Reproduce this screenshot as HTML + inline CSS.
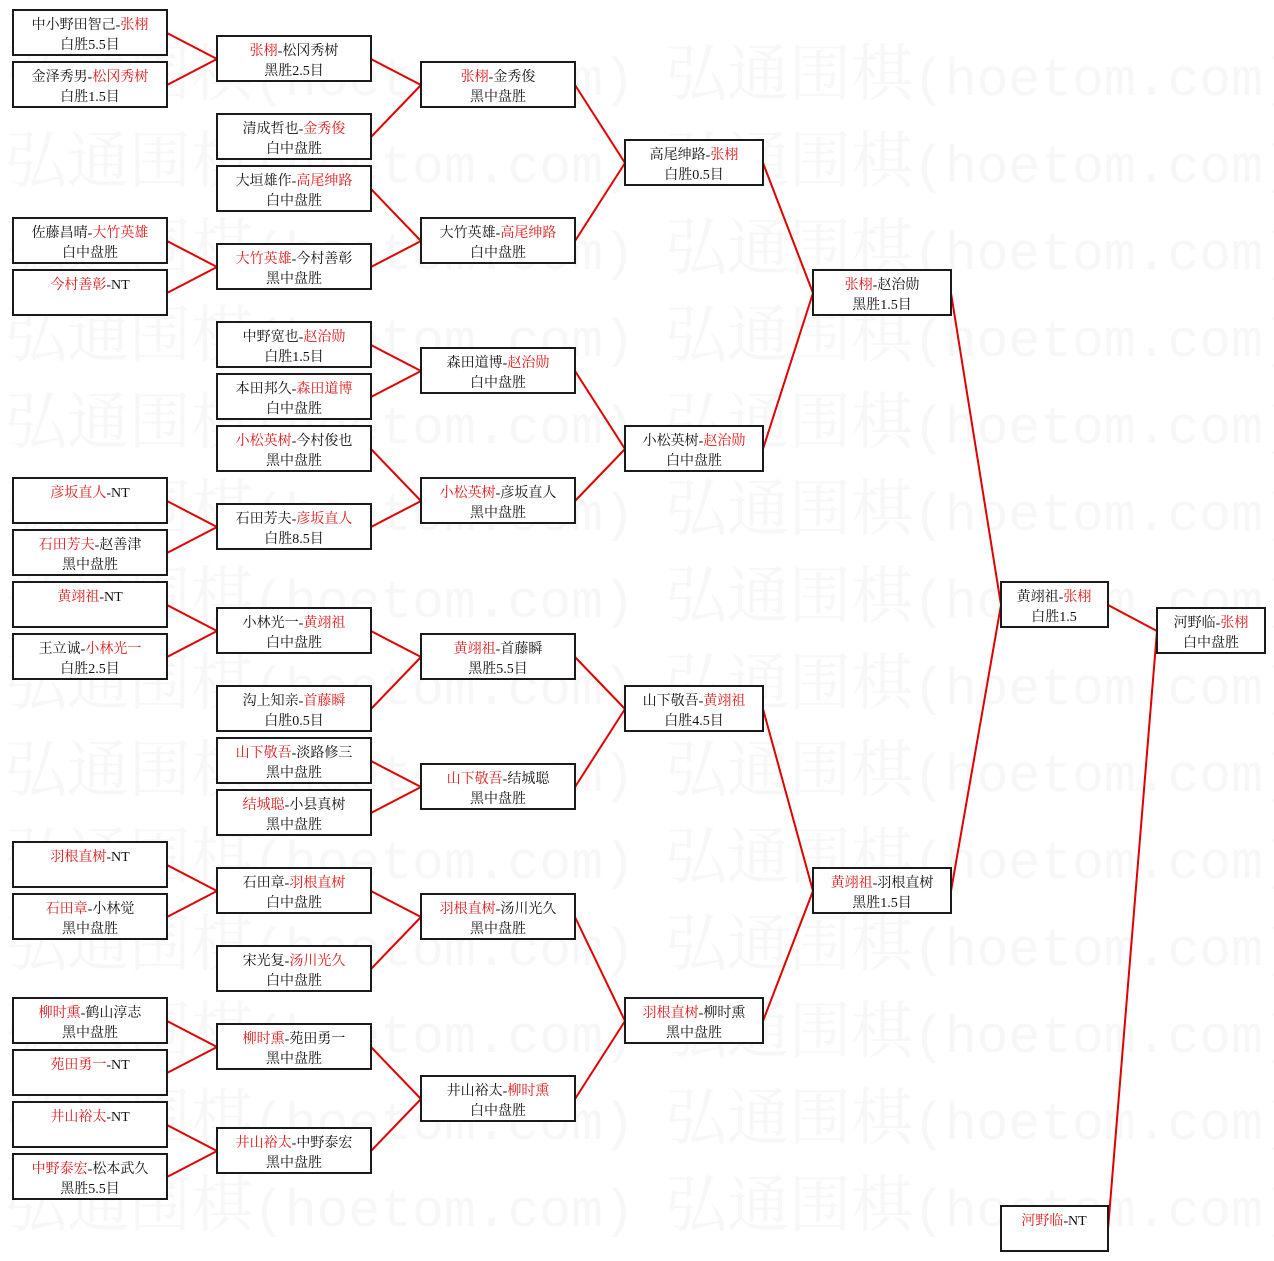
<!DOCTYPE html>
<html><head><meta charset="utf-8"><style>
html,body{margin:0;padding:0;background:#fff;}
svg{display:block;}
.b{fill:#fff;stroke:#1a1a1a;stroke-width:2;}
.t{font-family:"Liberation Serif","Noto Serif CJK SC","Noto Sans CJK SC",serif;font-size:14px;fill:#111;text-anchor:middle;}
.r{fill:#e01818;}
.w{font-family:"Liberation Mono","Noto Serif CJK SC",monospace;font-size:62px;fill:#f7f7f7;}
.w .m{font-size:53px;}
line{stroke:#e00000;stroke-width:2;}
</style></head><body>
<svg width="1274" height="1261" xmlns="http://www.w3.org/2000/svg">
<g class="w">
<text x="5" y="95">弘通围棋<tspan class="m">(hoetom.com)</tspan></text><text x="665" y="95">弘通围棋<tspan class="m">(hoetom.com)</tspan></text>
<text x="5" y="182">弘通围棋<tspan class="m">(hoetom.com)</tspan></text><text x="665" y="182">弘通围棋<tspan class="m">(hoetom.com)</tspan></text>
<text x="5" y="269">弘通围棋<tspan class="m">(hoetom.com)</tspan></text><text x="665" y="269">弘通围棋<tspan class="m">(hoetom.com)</tspan></text>
<text x="5" y="356">弘通围棋<tspan class="m">(hoetom.com)</tspan></text><text x="665" y="356">弘通围棋<tspan class="m">(hoetom.com)</tspan></text>
<text x="5" y="443">弘通围棋<tspan class="m">(hoetom.com)</tspan></text><text x="665" y="443">弘通围棋<tspan class="m">(hoetom.com)</tspan></text>
<text x="5" y="530">弘通围棋<tspan class="m">(hoetom.com)</tspan></text><text x="665" y="530">弘通围棋<tspan class="m">(hoetom.com)</tspan></text>
<text x="5" y="617">弘通围棋<tspan class="m">(hoetom.com)</tspan></text><text x="665" y="617">弘通围棋<tspan class="m">(hoetom.com)</tspan></text>
<text x="5" y="704">弘通围棋<tspan class="m">(hoetom.com)</tspan></text><text x="665" y="704">弘通围棋<tspan class="m">(hoetom.com)</tspan></text>
<text x="5" y="791">弘通围棋<tspan class="m">(hoetom.com)</tspan></text><text x="665" y="791">弘通围棋<tspan class="m">(hoetom.com)</tspan></text>
<text x="5" y="878">弘通围棋<tspan class="m">(hoetom.com)</tspan></text><text x="665" y="878">弘通围棋<tspan class="m">(hoetom.com)</tspan></text>
<text x="5" y="965">弘通围棋<tspan class="m">(hoetom.com)</tspan></text><text x="665" y="965">弘通围棋<tspan class="m">(hoetom.com)</tspan></text>
<text x="5" y="1052">弘通围棋<tspan class="m">(hoetom.com)</tspan></text><text x="665" y="1052">弘通围棋<tspan class="m">(hoetom.com)</tspan></text>
<text x="5" y="1139">弘通围棋<tspan class="m">(hoetom.com)</tspan></text><text x="665" y="1139">弘通围棋<tspan class="m">(hoetom.com)</tspan></text>
<text x="5" y="1226">弘通围棋<tspan class="m">(hoetom.com)</tspan></text><text x="665" y="1226">弘通围棋<tspan class="m">(hoetom.com)</tspan></text>
</g>
<line x1="167" y1="33" x2="217" y2="59"/><line x1="167" y1="85" x2="217" y2="59"/>
<line x1="167" y1="241" x2="217" y2="267"/><line x1="167" y1="293" x2="217" y2="267"/>
<line x1="167" y1="501" x2="217" y2="527"/><line x1="167" y1="553" x2="217" y2="527"/>
<line x1="167" y1="605" x2="217" y2="631"/><line x1="167" y1="657" x2="217" y2="631"/>
<line x1="167" y1="865" x2="217" y2="891"/><line x1="167" y1="917" x2="217" y2="891"/>
<line x1="167" y1="1021" x2="217" y2="1047"/><line x1="167" y1="1073" x2="217" y2="1047"/>
<line x1="167" y1="1125" x2="217" y2="1151"/><line x1="167" y1="1177" x2="217" y2="1151"/>
<line x1="371" y1="59" x2="421" y2="85"/><line x1="371" y1="137" x2="421" y2="85"/>
<line x1="371" y1="189" x2="421" y2="241"/><line x1="371" y1="267" x2="421" y2="241"/>
<line x1="371" y1="345" x2="421" y2="371"/><line x1="371" y1="397" x2="421" y2="371"/>
<line x1="371" y1="449" x2="421" y2="501"/><line x1="371" y1="527" x2="421" y2="501"/>
<line x1="371" y1="631" x2="421" y2="657"/><line x1="371" y1="709" x2="421" y2="657"/>
<line x1="371" y1="761" x2="421" y2="787"/><line x1="371" y1="813" x2="421" y2="787"/>
<line x1="371" y1="891" x2="421" y2="917"/><line x1="371" y1="969" x2="421" y2="917"/>
<line x1="371" y1="1047" x2="421" y2="1099"/><line x1="371" y1="1151" x2="421" y2="1099"/>
<line x1="575" y1="85" x2="625" y2="163"/><line x1="575" y1="241" x2="625" y2="163"/>
<line x1="575" y1="371" x2="625" y2="449"/><line x1="575" y1="501" x2="625" y2="449"/>
<line x1="575" y1="657" x2="625" y2="709"/><line x1="575" y1="787" x2="625" y2="709"/>
<line x1="575" y1="917" x2="625" y2="1021"/><line x1="575" y1="1099" x2="625" y2="1021"/>
<line x1="763" y1="163" x2="813" y2="293"/><line x1="763" y1="449" x2="813" y2="293"/>
<line x1="763" y1="709" x2="813" y2="891"/><line x1="763" y1="1021" x2="813" y2="891"/>
<line x1="951" y1="293" x2="1001" y2="605"/><line x1="951" y1="891" x2="1001" y2="605"/>
<line x1="1108" y1="605" x2="1157" y2="631"/><line x1="1108" y1="1229" x2="1157" y2="631"/>
<g class="t">
<rect class="b" x="13" y="10" width="154" height="45"/><text x="90" y="29">中小野田智己-<tspan class="r">张栩</tspan></text><text x="90" y="49">白胜5.5目</text>
<rect class="b" x="13" y="62" width="154" height="45"/><text x="90" y="81">金泽秀男-<tspan class="r">松冈秀树</tspan></text><text x="90" y="101">白胜1.5目</text>
<rect class="b" x="13" y="218" width="154" height="45"/><text x="90" y="237">佐藤昌晴-<tspan class="r">大竹英雄</tspan></text><text x="90" y="257">白中盘胜</text>
<rect class="b" x="13" y="270" width="154" height="45"/><text x="90" y="289"><tspan class="r">今村善彰</tspan>-NT</text>
<rect class="b" x="13" y="478" width="154" height="45"/><text x="90" y="497"><tspan class="r">彦坂直人</tspan>-NT</text>
<rect class="b" x="13" y="530" width="154" height="45"/><text x="90" y="549"><tspan class="r">石田芳夫</tspan>-赵善津</text><text x="90" y="569">黑中盘胜</text>
<rect class="b" x="13" y="582" width="154" height="45"/><text x="90" y="601"><tspan class="r">黄翊祖</tspan>-NT</text>
<rect class="b" x="13" y="634" width="154" height="45"/><text x="90" y="653">王立诚-<tspan class="r">小林光一</tspan></text><text x="90" y="673">白胜2.5目</text>
<rect class="b" x="13" y="842" width="154" height="45"/><text x="90" y="861"><tspan class="r">羽根直树</tspan>-NT</text>
<rect class="b" x="13" y="894" width="154" height="45"/><text x="90" y="913"><tspan class="r">石田章</tspan>-小林觉</text><text x="90" y="933">黑中盘胜</text>
<rect class="b" x="13" y="998" width="154" height="45"/><text x="90" y="1017"><tspan class="r">柳时熏</tspan>-鹤山淳志</text><text x="90" y="1037">黑中盘胜</text>
<rect class="b" x="13" y="1050" width="154" height="45"/><text x="90" y="1069"><tspan class="r">苑田勇一</tspan>-NT</text>
<rect class="b" x="13" y="1102" width="154" height="45"/><text x="90" y="1121"><tspan class="r">井山裕太</tspan>-NT</text>
<rect class="b" x="13" y="1154" width="154" height="45"/><text x="90" y="1173"><tspan class="r">中野泰宏</tspan>-松本武久</text><text x="90" y="1193">黑胜5.5目</text>
<rect class="b" x="217" y="36" width="154" height="45"/><text x="294" y="55"><tspan class="r">张栩</tspan>-松冈秀树</text><text x="294" y="75">黑胜2.5目</text>
<rect class="b" x="217" y="114" width="154" height="45"/><text x="294" y="133">清成哲也-<tspan class="r">金秀俊</tspan></text><text x="294" y="153">白中盘胜</text>
<rect class="b" x="217" y="166" width="154" height="45"/><text x="294" y="185">大垣雄作-<tspan class="r">高尾绅路</tspan></text><text x="294" y="205">白中盘胜</text>
<rect class="b" x="217" y="244" width="154" height="45"/><text x="294" y="263"><tspan class="r">大竹英雄</tspan>-今村善彰</text><text x="294" y="283">黑中盘胜</text>
<rect class="b" x="217" y="322" width="154" height="45"/><text x="294" y="341">中野宽也-<tspan class="r">赵治勋</tspan></text><text x="294" y="361">白胜1.5目</text>
<rect class="b" x="217" y="374" width="154" height="45"/><text x="294" y="393">本田邦久-<tspan class="r">森田道博</tspan></text><text x="294" y="413">白中盘胜</text>
<rect class="b" x="217" y="426" width="154" height="45"/><text x="294" y="445"><tspan class="r">小松英树</tspan>-今村俊也</text><text x="294" y="465">黑中盘胜</text>
<rect class="b" x="217" y="504" width="154" height="45"/><text x="294" y="523">石田芳夫-<tspan class="r">彦坂直人</tspan></text><text x="294" y="543">白胜8.5目</text>
<rect class="b" x="217" y="608" width="154" height="45"/><text x="294" y="627">小林光一-<tspan class="r">黄翊祖</tspan></text><text x="294" y="647">白中盘胜</text>
<rect class="b" x="217" y="686" width="154" height="45"/><text x="294" y="705">沟上知亲-<tspan class="r">首藤瞬</tspan></text><text x="294" y="725">白胜0.5目</text>
<rect class="b" x="217" y="738" width="154" height="45"/><text x="294" y="757"><tspan class="r">山下敬吾</tspan>-淡路修三</text><text x="294" y="777">黑中盘胜</text>
<rect class="b" x="217" y="790" width="154" height="45"/><text x="294" y="809"><tspan class="r">结城聪</tspan>-小县真树</text><text x="294" y="829">黑中盘胜</text>
<rect class="b" x="217" y="868" width="154" height="45"/><text x="294" y="887">石田章-<tspan class="r">羽根直树</tspan></text><text x="294" y="907">白中盘胜</text>
<rect class="b" x="217" y="946" width="154" height="45"/><text x="294" y="965">宋光复-<tspan class="r">汤川光久</tspan></text><text x="294" y="985">白中盘胜</text>
<rect class="b" x="217" y="1024" width="154" height="45"/><text x="294" y="1043"><tspan class="r">柳时熏</tspan>-苑田勇一</text><text x="294" y="1063">黑中盘胜</text>
<rect class="b" x="217" y="1128" width="154" height="45"/><text x="294" y="1147"><tspan class="r">井山裕太</tspan>-中野泰宏</text><text x="294" y="1167">黑中盘胜</text>
<rect class="b" x="421" y="62" width="154" height="45"/><text x="498" y="81"><tspan class="r">张栩</tspan>-金秀俊</text><text x="498" y="101">黑中盘胜</text>
<rect class="b" x="421" y="218" width="154" height="45"/><text x="498" y="237">大竹英雄-<tspan class="r">高尾绅路</tspan></text><text x="498" y="257">白中盘胜</text>
<rect class="b" x="421" y="348" width="154" height="45"/><text x="498" y="367">森田道博-<tspan class="r">赵治勋</tspan></text><text x="498" y="387">白中盘胜</text>
<rect class="b" x="421" y="478" width="154" height="45"/><text x="498" y="497"><tspan class="r">小松英树</tspan>-彦坂直人</text><text x="498" y="517">黑中盘胜</text>
<rect class="b" x="421" y="634" width="154" height="45"/><text x="498" y="653"><tspan class="r">黄翊祖</tspan>-首藤瞬</text><text x="498" y="673">黑胜5.5目</text>
<rect class="b" x="421" y="764" width="154" height="45"/><text x="498" y="783"><tspan class="r">山下敬吾</tspan>-结城聪</text><text x="498" y="803">黑中盘胜</text>
<rect class="b" x="421" y="894" width="154" height="45"/><text x="498" y="913"><tspan class="r">羽根直树</tspan>-汤川光久</text><text x="498" y="933">黑中盘胜</text>
<rect class="b" x="421" y="1076" width="154" height="45"/><text x="498" y="1095">井山裕太-<tspan class="r">柳时熏</tspan></text><text x="498" y="1115">白中盘胜</text>
<rect class="b" x="625" y="140" width="138" height="45"/><text x="694" y="159">高尾绅路-<tspan class="r">张栩</tspan></text><text x="694" y="179">白胜0.5目</text>
<rect class="b" x="625" y="426" width="138" height="45"/><text x="694" y="445">小松英树-<tspan class="r">赵治勋</tspan></text><text x="694" y="465">白中盘胜</text>
<rect class="b" x="625" y="686" width="138" height="45"/><text x="694" y="705">山下敬吾-<tspan class="r">黄翊祖</tspan></text><text x="694" y="725">白胜4.5目</text>
<rect class="b" x="625" y="998" width="138" height="45"/><text x="694" y="1017"><tspan class="r">羽根直树</tspan>-柳时熏</text><text x="694" y="1037">黑中盘胜</text>
<rect class="b" x="813" y="270" width="138" height="45"/><text x="882" y="289"><tspan class="r">张栩</tspan>-赵治勋</text><text x="882" y="309">黑胜1.5目</text>
<rect class="b" x="813" y="868" width="138" height="45"/><text x="882" y="887"><tspan class="r">黄翊祖</tspan>-羽根直树</text><text x="882" y="907">黑胜1.5目</text>
<rect class="b" x="1001" y="582" width="107" height="45"/><text x="1054" y="601">黄翊祖-<tspan class="r">张栩</tspan></text><text x="1054" y="621">白胜1.5</text>
<rect class="b" x="1001" y="1206" width="107" height="45"/><text x="1054" y="1225"><tspan class="r">河野临</tspan>-NT</text>
<rect class="b" x="1157" y="608" width="108" height="45"/><text x="1211" y="627">河野临-<tspan class="r">张栩</tspan></text><text x="1211" y="647">白中盘胜</text>
</g>
</svg>
</body></html>
